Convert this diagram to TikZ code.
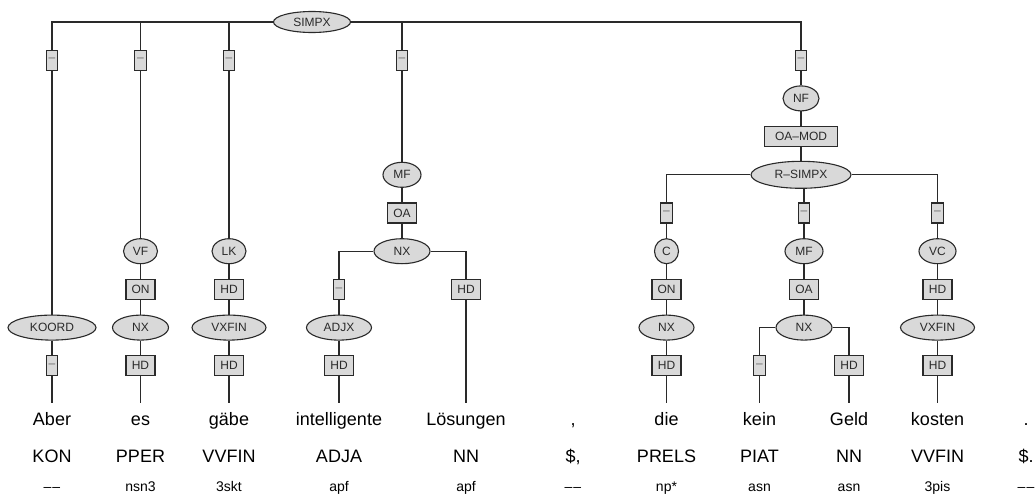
\documentclass[tikz,border=0pt]{standalone}
\usepackage{fontspec}
\setmainfont{Liberation Sans}
\usepackage{xcolor}
\definecolor{edgeGray}{HTML}{2A2A2A}
\definecolor{nodeGray}{HTML}{D9D9D9}
\usepackage{tikz}
\usetikzlibrary{positioning, shapes.geometric}

\newcommand{\nomorph}{\textendash\kern1pt\textendash}

\begin{document}
\begin{tikzpicture}[
    x=1pt, y=-1pt,
    node distance=38.2pt, on grid,
    cat/.style    ={ellipse, draw=edgeGray, fill=nodeGray, line width=1.1pt,
                    inner sep=2pt, minimum height=25pt, minimum width=#1,
                    text=edgeGray, font=\fontsize{12}{14}\selectfont},
    cat/.default  =34pt,
    fn/.style     ={rectangle, draw=edgeGray, fill=nodeGray, line width=1.1pt,
                    inner xsep=2.5pt, inner ysep=2pt, minimum height=20pt,
                    minimum width=#1, text=edgeGray, font=\fontsize{12}{14}\selectfont},
    fn/.default   =29pt,
    nolab/.style  ={fn=11pt, text=edgeGray!70},
    word/.style   ={anchor=base, font=\fontsize{18}{20}\selectfont,
                    text height=13pt, text depth=4pt, inner ysep=9pt},
    tag/.style    ={anchor=base, font=\fontsize{18}{20}\selectfont},
    morph/.style  ={anchor=base, font=\fontsize{14}{16}\selectfont},
    edge/.style   ={line width=1.1pt, color=edgeGray}
]
\useasboundingbox (0,0) rectangle (1036,498);

\node[cat=77pt, minimum height=21pt] (simpx) at (312,22) {SIMPX};
\node[nolab] (d1) at (52,60.2)    {\textendash};
\node[nolab] (d2) at (140.5,60.2) {\textendash};
\node[nolab] (d3) at (229,60.2)   {\textendash};
\node[nolab] (d4) at (402,60.2)   {\textendash};
\node[nolab] (d5) at (801,60.2)   {\textendash};

\node[cat=88pt]             (koord)  at (52,327.6) {KOORD};
\node[nolab, below=of koord] (dk)                  {\textendash};

\node[cat]                   (vf)     at (140.5,251.2) {VF};
\node[fn, below=of vf]       (on1)                     {ON};
\node[cat=56pt, below=of on1] (nx1)                    {NX};
\node[fn, below=of nx1]      (hd1)                     {HD};

\node[cat]                   (lk)     at (229,251.2) {LK};
\node[fn, below=of lk]       (hd2)                   {HD};
\node[cat=74pt, below=of hd2] (vxfin1)               {VXFIN};
\node[fn, below=of vxfin1]   (hd3)                   {HD};

\node[cat=38pt]              (mf1)    at (402,174.8) {MF};
\node[fn, below=of mf1]      (oa1)                   {OA};
\node[cat=56pt, below=of oa1] (nx2)                  {NX};
\node[nolab]                 (dadj)   at (339,289.4) {\textendash};
\node[cat=65pt, below=of dadj] (adjx)                {ADJX};
\node[fn, below=of adjx]     (hd4)                   {HD};
\node[fn]                    (hdn)    at (466,289.4) {HD};

\node[cat=36pt]              (nf)     at (801,98.4)  {NF};
\node[fn=73pt, below=of nf]  (oamod)                 {OA\textendash MOD};
\node[cat=100pt, minimum height=27pt, below=of oamod] (rsimpx) {R\textendash SIMPX};

\node[nolab]                 (rd1)    at (666.5,213) {\textendash};
\node[cat=24pt, below=of rd1] (c)                    {C};
\node[fn, below=of c]        (on2)                   {ON};
\node[cat=55pt, below=of on2] (nx3)                  {NX};
\node[fn, below=of nx3]      (hd5)                   {HD};

\node[nolab]                 (rd2)    at (804,213)   {\textendash};
\node[cat=38pt, below=of rd2] (mf2)                  {MF};
\node[fn, below=of mf2]      (oa2)                   {OA};
\node[cat=56pt, below=of oa2] (nx4)                  {NX};
\node[nolab]                 (dpiat)  at (759.5,365.8) {\textendash};
\node[fn]                    (hdgeld) at (849,365.8)   {HD};

\node[nolab]                 (rd3)    at (937.5,213) {\textendash};
\node[cat=37pt, below=of rd3] (vc)                   {VC};
\node[fn, below=of vc]       (hd6)                   {HD};
\node[cat=74pt, below=of hd6] (vxfin2)               {VXFIN};
\node[fn, below=of vxfin2]   (hd7)                   {HD};

\node[word] (w1)  at (52,425)    {Aber};
\node[word] (w2)  at (140.5,425) {es};
\node[word] (w3)  at (229,425)   {gäbe};
\node[word] (w4)  at (339,425)   {intelligente};
\node[word] (w5)  at (466,425)   {Lösungen};
\node[word] (w6)  at (573,425)   {,};
\node[word] (w7)  at (666.5,425) {die};
\node[word] (w8)  at (759.5,425) {kein};
\node[word] (w9)  at (849,425)   {Geld};
\node[word] (w10) at (937.5,425) {kosten};
\node[word] (w11) at (1026,425)  {.};

\node[tag] (t1)  at (52,462)    {KON};
\node[tag] (t2)  at (140.5,462) {PPER};
\node[tag] (t3)  at (229,462)   {VVFIN};
\node[tag] (t4)  at (339,462)   {ADJA};
\node[tag] (t5)  at (466,462)   {NN};
\node[tag] (t6)  at (573,462)   {\$,};
\node[tag] (t7)  at (666.5,462) {PRELS};
\node[tag] (t8)  at (759.5,462) {PIAT};
\node[tag] (t9)  at (849,462)   {NN};
\node[tag] (t10) at (937.5,462) {VVFIN};
\node[tag] (t11) at (1026,462)  {\$.};

\node[morph] (m1)  at (52,491)    {\nomorph};
\node[morph] (m2)  at (140.5,491) {nsn3};
\node[morph] (m3)  at (229,491)   {3skt};
\node[morph] (m4)  at (339,491)   {apf};
\node[morph] (m5)  at (466,491)   {apf};
\node[morph] (m6)  at (573,491)   {\nomorph};
\node[morph] (m7)  at (666.5,491) {np*};
\node[morph] (m8)  at (759.5,491) {asn};
\node[morph] (m9)  at (849,491)   {asn};
\node[morph] (m10) at (937.5,491) {3pis};
\node[morph] (m11) at (1026,491)  {\nomorph};

\draw[edge] (simpx.west) -| (d1);
\draw[edge] (simpx.west) -| (d2);
\draw[edge] (simpx.west) -| (d3);
\draw[edge] (simpx.east) -| (d4);
\draw[edge] (simpx.east) -| (d5);
\draw[edge] (d1) -- (koord) -- (dk) -- (w1);
\draw[edge] (d2) -- (vf) -- (on1) -- (nx1) -- (hd1) -- (w2);
\draw[edge] (d3) -- (lk) -- (hd2) -- (vxfin1) -- (hd3) -- (w3);
\draw[edge] (d4) -- (mf1) -- (oa1) -- (nx2);
\draw[edge] (nx2.west) -| (dadj);
\draw[edge] (nx2.east) -| (hdn);
\draw[edge] (dadj) -- (adjx) -- (hd4) -- (w4);
\draw[edge] (hdn) -- (w5);
\draw[edge] (d5) -- (nf) -- (oamod) -- (rsimpx);
\draw[edge] (rsimpx.west) -| (rd1);
\draw[edge] (rsimpx.east) -| (rd3);
\draw[edge] (rd2 |- rsimpx.south) -- (rd2);
\draw[edge] (rd1) -- (c) -- (on2) -- (nx3) -- (hd5) -- (w7);
\draw[edge] (rd2) -- (mf2) -- (oa2) -- (nx4);
\draw[edge] (nx4.west) -| (dpiat);
\draw[edge] (nx4.east) -| (hdgeld);
\draw[edge] (dpiat) -- (w8);
\draw[edge] (hdgeld) -- (w9);
\draw[edge] (rd3) -- (vc) -- (hd6) -- (vxfin2) -- (hd7) -- (w10);
\end{tikzpicture}
\end{document}
